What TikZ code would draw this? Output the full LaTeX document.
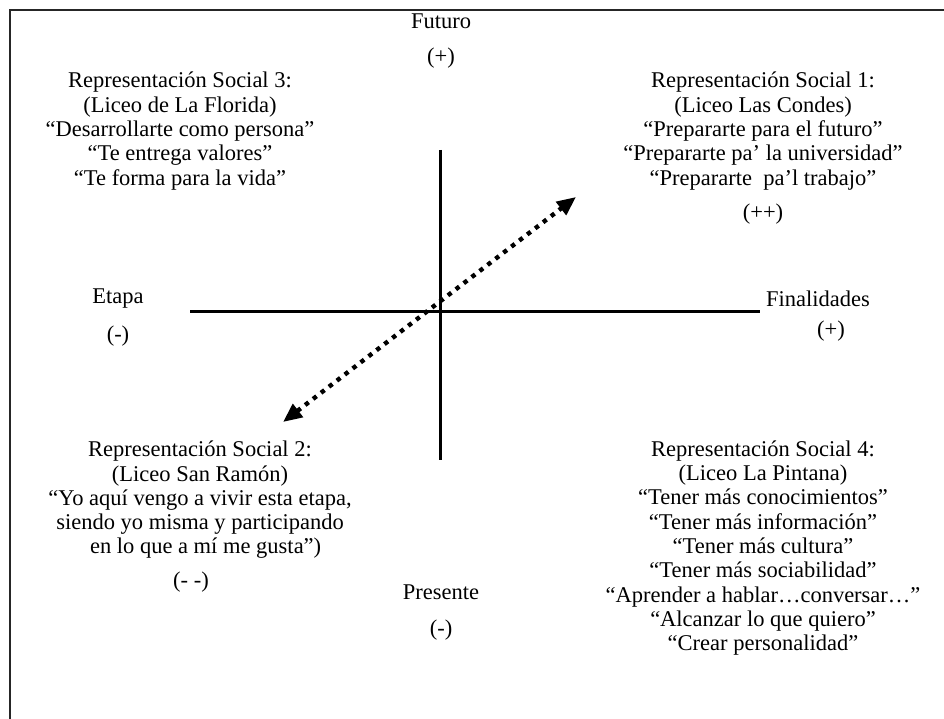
\documentclass[tikz,border=0pt]{standalone}
\usepackage{fontspec}
\setmainfont{Liberation Serif}
\usetikzlibrary{arrows.meta}
\tikzset{
  txt/.style={align=center, inner sep=0pt, font=\fontsize{22.5}{24.3}\selectfont},
  axis/.style={line width=3pt},
}

\begin{document}
\begin{tikzpicture}[x=1pt, y=-1pt]
      \useasboundingbox (0,0) rectangle (944,719);
      % Frame:
      \draw[line width=2pt, black!85] (944,10) -- (10,10) -- (10,719);
      % Axes:
      \coordinate (west) at (190,311);
      \coordinate (east) at (760,311);
      \coordinate (north) at (440,150);
      \coordinate (south) at (440,460);
      \draw[axis] (west) -- (east);
      \draw[axis] (north) -- (south);
      \coordinate (lowend) at (283,422);
      \coordinate (highend) at (576,197);
      \draw[line width=4.4pt, dash pattern=on 4.4pt off 5.6pt,
            {Triangle[length=19pt,width=16pt]}-{Triangle[length=19pt,width=16pt]}] (lowend) -- (highend);
      % Axis labels:
      \node[txt] (futuro) at (441,21) {Futuro};
      \node[txt] (futurosign) at (441,58) {(+)};
      \node[txt] (presente) at (441,592) {Presente};
      \node[txt] (presentesign) at (441,630) {(-)};
      \node[txt] (etapa) at (118,299) {Etapa};
      \node[txt] (etapasign) at (118,336) {(-)};
      \node[txt] (finalidades) at (818,299) {Finalidades};
      \node[txt] (finalidadessign) at (831,331) {(+)};
      % Quadrants:
      \node[txt] (rsIII) at (180,131) {Representación Social 3:\\(Liceo de La Florida)\\“Desarrollarte como persona”\\“Te entrega valores”\\“Te forma para la vida”};
      \node[txt] (rsI) at (763,131) {Representación Social 1:\\(Liceo Las Condes)\\“Prepararte para el futuro”\\“Prepararte pa’ la universidad”\\“Prepararte\ \ pa’l trabajo”};
      \node[txt] (rsIsign) at (763,214) {(++)};
      \node[txt] (rsII) at (200,500) {Representación Social 2:\\(Liceo San Ramón)\\“Yo aquí vengo a vivir esta etapa,\\siendo yo misma y participando\\\ \ en lo que a mí me gusta”)};
      \node[txt] (rsIIsign) at (191,582) {(- -)};
      \node[txt] (rsIV) at (763,548) {Representación Social 4:\\(Liceo La Pintana)\\“Tener más conocimientos”\\“Tener más información”\\“Tener más cultura”\\“Tener más sociabilidad”\\“Aprender a hablar…conversar…”\\“Alcanzar lo que quiero”\\“Crear personalidad”};
    \end{tikzpicture}
\end{document}
